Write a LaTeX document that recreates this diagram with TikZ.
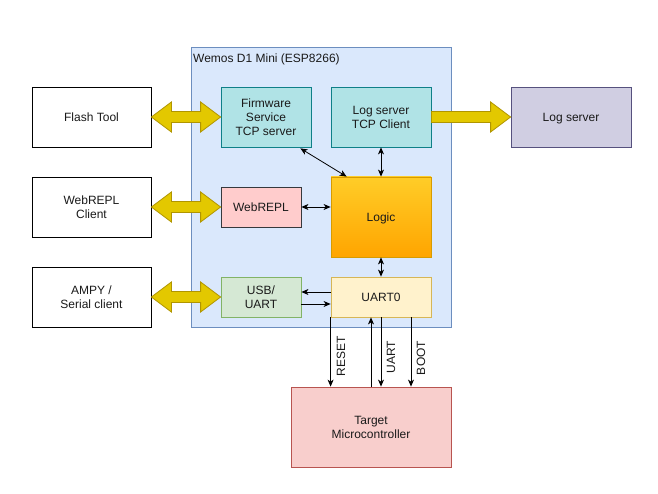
\documentclass[tikz,border=0pt]{standalone}
\usepackage{fontspec}
\setmainfont{Liberation Sans}
\usetikzlibrary{arrows.meta,calc}
\definecolor{txt}{HTML}{1A1A1A}
\definecolor{contF}{HTML}{DAE8FC}\definecolor{contS}{HTML}{6C8EBF}
\definecolor{tealF}{HTML}{B0E3E6}\definecolor{tealS}{HTML}{0E8088}
\definecolor{pinkF}{HTML}{FFCCCC}\definecolor{pinkS}{HTML}{36393D}
\definecolor{greenF}{HTML}{D5E8D4}\definecolor{greenS}{HTML}{82B366}
\definecolor{yelF}{HTML}{FFF2CC}\definecolor{yelS}{HTML}{D6B656}
\definecolor{purF}{HTML}{D0CEE2}\definecolor{purS}{HTML}{56517E}
\definecolor{redF}{HTML}{F8CECC}\definecolor{redS}{HTML}{B85450}
\definecolor{logT}{HTML}{FFCD28}\definecolor{logB}{HTML}{FFA500}\definecolor{logS}{HTML}{D79B00}
\definecolor{flexF}{HTML}{E3C800}\definecolor{flexS}{HTML}{B09500}
\tikzset{
  box/.style={draw, line width=0.8pt, minimum width=#1, align=center, inner sep=0pt, text=txt,
    font=\fontsize{12}{14}\selectfont},
  flex/.style={fill=flexF, draw=flexS, line width=0.8pt, line join=miter},
  conn/.style={line width=0.8pt, {Stealth[length=7pt,width=6pt,inset=2pt]}-{Stealth[length=7pt,width=6pt,inset=2pt]}},
  one/.style={line width=0.8pt, -{Stealth[length=7pt,width=6pt,inset=2pt]}},
  lbl/.style={rotate=90, font=\fontsize{12}{14}\selectfont, text=txt, inner sep=0pt, anchor=center}
}
\begin{document}
\begin{tikzpicture}[x=1pt,y=-1pt]
\useasboundingbox[fill=white] (0,0) rectangle (658,494);
% container
\node[box, draw=contS, fill=contF, minimum width=260pt, minimum height=280pt] (cont) at (321,187) {};
\node[anchor=north west, inner sep=0pt, text=txt, font=\fontsize{12}{14}\selectfont] (contlbl) at (193,54) {Wemos D1 Mini (ESP8266)};
% outer boxes
\node[box, draw=black, fill=white, minimum width=119pt, minimum height=60pt] (flash) at (91.5,117) {Flash Tool};
\node[box, draw=black, fill=white, minimum width=119pt, minimum height=60pt] (wrc) at (91.5,207) {WebREPL\\Client};
\node[box, draw=black, fill=white, minimum width=119pt, minimum height=60pt] (ampy) at (91.5,297) {AMPY /\\Serial client};
\node[box, draw=purS, fill=purF, minimum width=120pt, minimum height=60pt, text depth=0pt] (logsrv) at (571,117) {Log server};
\node[box, draw=redS, fill=redF, minimum width=160pt, minimum height=80pt] (target) at (371,427) {Target\\Microcontroller};
% inner boxes
\node[box, draw=tealS, fill=tealF, minimum width=90pt, minimum height=60pt] (fw) at (266,117) {Firmware\\Service\\TCP server};
\node[box, draw=tealS, fill=tealF, minimum width=100pt, minimum height=60pt] (logcl) at (381,117) {Log server\\TCP Client};
\node[box, draw=pinkS, fill=pinkF, minimum width=80pt, minimum height=40pt] (wr) at (261,207) {WebREPL};
\node[box, draw=logS, top color=logT, bottom color=logB, minimum width=100pt, minimum height=80pt, text depth=0pt] (logic) at (381,217) {Logic};
\node[box, draw=greenS, fill=greenF, minimum width=80pt, minimum height=40pt] (usb) at (261,297) {USB/\\UART};
\node[box, draw=yelS, fill=yelF, minimum width=100pt, minimum height=40pt] (uart0) at (381,297) {UART0};
% flexible arrows
\foreach \a/\b in {flash/fw, wrc/wr, ampy/usb}{
  \draw[flex] (\a.east) -- ++(20,-15) -- ++(0,9.5) -- ($(\b.west)+(-20,-5.5)$) -- ++(0,-9.5) -- (\b.west)
     -- ++(-20,15) -- ++(0,-9.5) -- ($(\a.east)+(20,5.5)$) -- ++(0,9.5) -- cycle;
}
\draw[flex] ($(logcl.east)+(0,-5.5)$) -- ($(logsrv.west)+(-20,-5.5)$) -- ++(0,-9.5) -- (logsrv.west)
   -- ++(-20,15) -- ++(0,-9.5) -- ($(logcl.east)+(0,5.5)$) -- cycle;
% black connectors
\coordinate (fwb) at ($(fw.south east)+(-11,1)$);
\coordinate (lgtl) at ($(logic.north west)+(16,0)$);
\draw[conn] (fwb) -- (lgtl);
\draw[conn] (logcl.south) -- (logic.north);
\draw[conn] (wr.east) -- (wr.east -| logic.west);
\draw[conn] (logic.south) -- (uart0.north);
\draw[one] ($(uart0.west)+(0,-5)$) -- ($(usb.east)+(0,-5)$);
\draw[one] ($(usb.east)+(0,7)$) -- ($(uart0.west)+(0,7)$);
% to target
\draw[one] (uart0.south west) -- (uart0.south west |- target.north);
\draw[one] ($(target.north)$) -- ($(uart0.south)+(-10,0)$);
\draw[one] (uart0.south) -- (uart0.south |- target.north);
\draw[one] ($(uart0.south)+(30,0)$) -- ($(target.north)+(40,0)$);
\node[lbl] (lreset) at (341,356) {RESET};
\node[lbl] (luart) at (391,357) {UART};
\node[lbl] (lboot) at (421,358) {BOOT};
\end{tikzpicture}
\end{document}
